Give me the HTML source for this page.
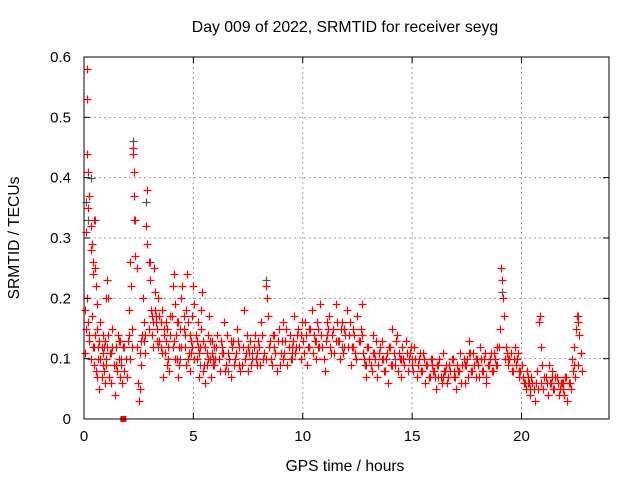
<!DOCTYPE html>
<html><head><meta charset="utf-8"><style>
body{margin:0;background:#fff;}
svg{display:block;font-family:"Liberation Sans",sans-serif;}
</style></head><body>
<svg id="chart" width="640" height="480">
<rect width="640" height="480" fill="#fff"/>
<text x="345" y="32" font-size="15.8" text-anchor="middle" fill="#000">Day 009 of 2022, SRMTID for receiver seyg</text>
<text x="345" y="471" font-size="15.6" text-anchor="middle" fill="#000">GPS time / hours</text>
<text transform="translate(19,238) rotate(-90)" font-size="15.6" text-anchor="middle" fill="#000">SRMTID / TECUs</text>
<g id="grid"></g><g id="gray"></g><g id="red"></g><g id="axes"></g>
</svg>
<script>
const xTicks=[0,5,10,15,20];
const yTicks=[0,0.1,0.2,0.3,0.4,0.5,0.6];
const yTickLabels=["0","0.1","0.2","0.3","0.4","0.5","0.6"];
const redTimes=[0.05,0.1,0.12,0.15,0.15,0.2,0.2,0.25,0.3,0.3,0.35,0.4,0.4,0.45,0.5,0.55,0.6,0.05,0.1,0.15,0.2,0.25,0.3,0.35,0.4,0.45,0.5,0.55,0.6,0.65,0.7,0.75,0.8,0.85,0.9,0.95,1.0,0.7,0.75,0.85,0.95,1.0,1.05,1.1,
1.1,1.15,1.2,1.25,1.3,1.35,1.4,1.45,1.5,1.55,1.6,1.65,1.7,1.75,1.8,1.85,1.9,1.95,
2.0,2.05,2.1,2.15,2.2,2.25,2.25,2.3,2.3,2.35,2.35,2.4,2.4,2.45,2.5,2.55,2.6,2.65,2.7,2.75,2.8,2.85,2.9,2.9,2.95,3.0,3.05,3.1,3.15,3.2,3.25,3.3,3.35,3.4,3.45,3.5,3.55,3.6,3.65,3.7,3.75,3.8,3.85,3.9,3.95,4.0,4.05,4.1,4.15,4.2,4.25,4.3,4.35,4.4,4.45,4.5,4.55,4.6,4.65,4.7,4.75,4.8,4.85,4.9,4.95,5.0,5.05,5.1,5.15,5.2,5.25,5.3,5.35,5.4,5.45,5.5,5.55,5.6,5.65,5.7,5.75,5.8,5.85,5.9,5.95,
6.0,6.1,6.2,6.3,6.4,6.5,6.6,6.7,6.8,6.9,7.0,7.1,7.2,7.3,7.4,7.5,7.6,7.7,7.8,7.9,8.0,8.1,8.2,8.3,8.35,8.4,8.5,8.6,8.7,8.8,8.9,9.0,9.1,9.2,9.3,9.4,9.5,9.6,9.7,9.8,9.9,10.0,10.1,10.2,10.3,10.4,10.5,10.6,10.7,10.8,10.9,11.0,11.1,11.2,11.3,11.4,11.5,11.6,11.7,11.8,11.9,12.0,12.1,12.2,12.3,12.4,12.5,12.6,12.7,12.8,12.9,13.0,13.1,13.2,13.3,13.4,13.5,13.6,13.7,13.8,13.9,14.0,14.1,14.2,14.3,14.4,14.5,14.6,14.7,14.8,14.9,15.0,15.1,15.2,15.3,15.4,15.5,15.6,15.7,15.8,15.9,16.0,16.1,16.2,16.3,16.4,16.5,16.6,16.7,16.8,16.9,17.0,17.1,17.2,17.3,17.4,17.5,17.6,17.7,17.8,17.9,18.0,18.1,18.2,18.3,18.4,18.5,18.6,18.7,18.8,18.9,19.0,19.05,19.1,19.15,19.2,19.3,19.4,19.5,19.6,19.7,19.8,19.9,20.0,20.1,20.2,20.3,20.4,20.5,20.6,20.7,20.8,20.85,20.9,20.95,21.0,21.1,21.2,21.3,21.4,21.5,21.6,21.7,21.8,21.9,22.0,22.1,22.2,22.3,22.4,22.5,22.55,22.6,22.65,22.7,22.75];
const redValues=[0.18,0.31,0.58,0.53,0.44,0.41,0.35,0.37,0.32,0.28,0.29,0.26,0.24,0.33,0.25,0.22,0.19,0.11,0.15,0.2,0.16,0.13,0.1,0.17,0.12,0.09,0.14,0.08,0.07,0.12,0.13,0.1,0.07,0.11,0.08,0.13,0.1,0.05,0.16,0.14,0.06,0.2,0.23,0.14,
0.2,0.07,0.11,0.06,0.15,0.09,0.04,0.12,0.08,0.14,0.1,0.07,0.09,0.06,0.12,0.08,0.1,0.07,
0.13,0.18,0.26,0.22,0.15,0.45,0.44,0.41,0.37,0.33,0.27,0.25,0.12,0.06,0.03,0.05,0.09,0.14,0.2,0.16,0.11,0.32,0.38,0.29,0.26,0.23,0.18,0.14,0.12,0.25,0.21,0.17,0.15,0.2,0.13,0.16,0.18,0.07,0.15,0.11,0.13,0.09,0.12,0.08,0.14,0.17,0.22,0.24,0.19,0.14,0.1,0.07,0.12,0.15,0.2,0.22,0.17,0.12,0.09,0.24,0.16,0.11,0.08,0.13,0.17,0.22,0.19,0.14,0.1,0.16,0.07,0.12,0.18,0.21,0.13,0.09,0.06,0.11,0.14,0.17,0.1,0.07,0.13,0.09,0.12,
0.1,0.14,0.08,0.12,0.16,0.09,0.11,0.07,0.13,0.1,0.15,0.12,0.09,0.18,0.11,0.08,0.13,0.1,0.14,0.09,0.12,0.16,0.1,0.22,0.2,0.17,0.13,0.09,0.12,0.08,0.15,0.11,0.16,0.13,0.09,0.14,0.11,0.17,0.12,0.15,0.1,0.13,0.16,0.09,0.12,0.18,0.14,0.1,0.15,0.19,0.12,0.08,0.14,0.17,0.11,0.15,0.19,0.13,0.1,0.16,0.12,0.18,0.14,0.09,0.15,0.11,0.17,0.13,0.19,0.1,0.07,0.12,0.09,0.14,0.1,0.07,0.11,0.13,0.08,0.1,0.06,0.12,0.15,0.09,0.14,0.11,0.07,0.1,0.13,0.08,0.11,0.09,0.12,0.07,0.1,0.08,0.11,0.06,0.09,0.07,0.1,0.08,0.05,0.09,0.07,0.11,0.08,0.06,0.09,0.1,0.07,0.05,0.08,0.11,0.09,0.06,0.1,0.13,0.08,0.11,0.07,0.09,0.12,0.08,0.1,0.06,0.09,0.11,0.08,0.1,0.12,0.15,0.25,0.23,0.2,0.17,0.12,0.09,0.11,0.08,0.12,0.1,0.07,0.09,0.06,0.05,0.07,0.04,0.06,0.03,0.08,0.16,0.17,0.12,0.09,0.05,0.07,0.04,0.06,0.08,0.05,0.07,0.04,0.06,0.05,0.07,0.03,0.06,0.1,0.12,0.15,0.17,0.16,0.14,0.11,0.08];
const redTimes2=[0.6,0.8,1.0,1.3,1.6,2.1,2.6,2.8,3.1,3.3,3.5,3.8,4.1,4.3,4.6,4.9,5.2,5.6,5.9,6.3,6.7,7.1,7.5,7.9,8.3,8.7,9.1,9.5,9.9,10.3,10.7,11.1,11.5,11.9,12.3,12.7,13.2,13.6,14.1,14.5,15.0,15.4,15.9,16.4,16.9,17.4,17.9,18.4,18.9,19.4,19.9,20.4,20.9,21.4,21.9,22.4];
const redValues2=[0.15,0.12,0.09,0.12,0.13,0.1,0.13,0.14,0.17,0.16,0.12,0.15,0.13,0.16,0.14,0.11,0.12,0.09,0.1,0.11,0.13,0.09,0.12,0.11,0.1,0.14,0.1,0.12,0.14,0.15,0.12,0.16,0.13,0.15,0.12,0.14,0.11,0.1,0.09,0.1,0.1,0.08,0.09,0.07,0.08,0.09,0.1,0.07,0.09,0.1,0.08,0.05,0.06,0.07,0.06,0.09];
const redTimes3=[0.25,0.45,0.65,0.85,1.05,1.25,1.45,1.65,1.85,2.05,2.2,2.55,2.75,2.95,3.15,3.25,3.35,3.45,3.55,3.65,3.75,3.85,3.95,4.05,4.15,4.25,4.35,4.45,4.55,4.65,4.75,4.85,4.95,5.05,5.15,5.25,5.35,5.45,5.55,5.65,5.75,5.85,5.95,6.05,6.15,6.25,6.35,6.45,6.55,6.65,6.75,6.85,6.95,7.05,7.15,7.25,7.35,7.45,7.55,7.65,7.75,7.85,7.95,8.05,8.15,8.25,8.45,8.55,8.65,8.75,8.85,8.95,9.05,9.15,9.25,9.35,9.45,9.55,9.65,9.75,9.85,9.95,10.05,10.15,10.25,10.35,10.45,10.55,10.65,10.75,10.85,10.95,11.05,11.15,11.25,11.35,11.45,11.55,11.65,11.75,11.85,11.95,12.05,12.15,12.25,12.35,12.45,12.55,12.65,12.75,12.85,12.95,13.05,13.15,13.25,13.35,13.45,13.55,13.65,13.75,13.85,13.95,14.05,14.15,14.25,14.35,14.45,14.55,14.65,14.75,14.85,14.95,15.05,15.15,15.25,15.35,15.45,15.55,15.65,15.75,15.85,15.95,16.05,16.15,16.25,16.35,16.45,16.55,16.65,16.75,16.85,16.95,17.05,17.15,17.25,17.35,17.45,17.55,17.65,17.75,17.85,17.95,18.05,18.15,18.25,18.35,18.45,18.55,18.65,18.75,18.85,18.95,19.25,19.35,19.45,19.55,19.65,19.75,19.85,19.95,20.05,20.15,20.25,20.35,20.45,20.55,20.65,20.75,21.05,21.15,21.25,21.35,21.45,21.55,21.65,21.75,21.85,21.95,22.05,22.15,22.25,22.35,22.45,22.6,22.7];
const redValues3=[0.14,0.12,0.1,0.09,0.12,0.11,0.09,0.13,0.12,0.14,0.12,0.11,0.13,0.15,0.16,0.18,0.13,0.17,0.11,0.14,0.16,0.1,0.17,0.12,0.1,0.16,0.09,0.12,0.15,0.18,0.1,0.14,0.12,0.1,0.13,0.11,0.15,0.08,0.12,0.1,0.13,0.11,0.09,0.12,0.1,0.13,0.11,0.08,0.14,0.1,0.12,0.09,0.11,0.13,0.08,0.12,0.1,0.14,0.11,0.09,0.12,0.1,0.13,0.09,0.14,0.11,0.12,0.1,0.14,0.11,0.13,0.09,0.13,0.11,0.15,0.12,0.1,0.13,0.11,0.14,0.12,0.16,0.11,0.14,0.12,0.15,0.11,0.13,0.16,0.12,0.14,0.1,0.13,0.15,0.12,0.14,0.11,0.16,0.13,0.15,0.11,0.14,0.12,0.16,0.12,0.14,0.1,0.13,0.15,0.11,0.09,0.12,0.1,0.08,0.11,0.13,0.09,0.12,0.1,0.08,0.11,0.12,0.09,0.11,0.13,0.08,0.1,0.12,0.09,0.11,0.1,0.12,0.08,0.1,0.09,0.11,0.08,0.1,0.09,0.07,0.1,0.08,0.07,0.09,0.1,0.06,0.08,0.09,0.07,0.08,0.1,0.07,0.09,0.08,0.06,0.1,0.09,0.07,0.11,0.08,0.09,0.1,0.07,0.1,0.08,0.11,0.09,0.1,0.08,0.11,0.09,0.12,0.1,0.11,0.1,0.08,0.1,0.09,0.11,0.08,0.07,0.06,0.08,0.06,0.07,0.05,0.06,0.05,0.07,0.06,0.09,0.06,0.05,0.07,0.06,0.05,0.06,0.04,0.07,0.06,0.05,0.08,0.07,0.09,0.11,0.1,0.12];
const grayTimes=[0.1,0.2,0.5,0.3,0.9,1.7,2.25,2.3,2.85,3.0,3.4,4.4,5.3,6.6,7.7,8.3,9.5,10.6,11.8,12.9,14.2,16.2,17.6,19.1,20.3,22.6];
const grayValues=[0.36,0.33,0.33,0.4,0.12,0.1,0.46,0.33,0.36,0.26,0.12,0.1,0.09,0.08,0.11,0.23,0.1,0.13,0.12,0.09,0.1,0.07,0.11,0.21,0.06,0.17];
const squareTimes=[1.8];
const squareValues=[0];

const L=84,R=609,T=57,B=419,XMAX=24,YMAX=0.6;
const xs=t=>L+t/XMAX*(R-L);
const ys=v=>B-v/YMAX*(B-T);
const NS="http://www.w3.org/2000/svg";
function mk(tag,attrs,parent){const e=document.createElementNS(NS,tag);for(const k in attrs)e.setAttribute(k,attrs[k]);parent.appendChild(e);return e;}
const grid=document.getElementById('grid'),axes=document.getElementById('axes');
xTicks.forEach(t=>{
  const x=xs(t);
  if(t>0){const g=mk('line',{x1:x,y1:T,x2:x,y2:B,stroke:'#a0a0a0','stroke-dasharray':'2,3'},grid);
  
  }
  mk('line',{x1:x,y1:B,x2:x,y2:B-6,stroke:'#000'},axes);
  mk('line',{x1:x,y1:T,x2:x,y2:T+6,stroke:'#000'},axes);
  const lb=mk('text',{x:x,y:B+22,'font-size':15,'text-anchor':'middle',fill:'#000'},axes);
  lb.textContent=t;
  
  
});
yTicks.forEach((v,i)=>{
  const y=ys(v);
  if(v>0&&v<YMAX){const g=mk('line',{x1:L,y1:y,x2:R,y2:y,stroke:'#a0a0a0','stroke-dasharray':'2,3'},grid);
  
  }
  mk('line',{x1:L,y1:y,x2:L+6,y2:y,stroke:'#000'},axes);
  mk('line',{x1:R,y1:y,x2:R-6,y2:y,stroke:'#000'},axes);
  const lb=mk('text',{x:L-13,y:y+5,'font-size':15,'text-anchor':'end',fill:'#000'},axes);
  lb.textContent=yTickLabels[i];
  
  
});
const frame=mk('rect',{x:L,y:T,width:R-L,height:B-T,fill:'none',stroke:'#000'},axes);


function plus(ts,vs,color,g,name){
  let d='';
  ts.forEach((t,i)=>{const x=Math.round(xs(t))+0.5,y=Math.round(ys(vs[i]))+0.5;d+=`M${x-4},${y}h8M${x},${y-4}v8`;});
  const p=mk('path',{d:d,stroke:color,'stroke-width':1.2,fill:'none'},g);
  
  
}
plus(grayTimes,grayValues,'#555',document.getElementById('gray'),'gray-series-points');
plus(redTimes,redValues,'#ff0000',document.getElementById('red'),'red-series-points');
plus(redTimes2,redValues2,'#ff0000',document.getElementById('red'),'red-series-points-extra');
plus(redTimes3,redValues3,'#ff0000',document.getElementById('red'),'red-series-points-dense');
squareTimes.forEach((t,i)=>{
  const s=mk('rect',{x:xs(t)-3,y:ys(squareValues[i])-3,width:6,height:6,fill:'#ff0000'},document.getElementById('red'));
  
  
});
</script>
</body></html>
